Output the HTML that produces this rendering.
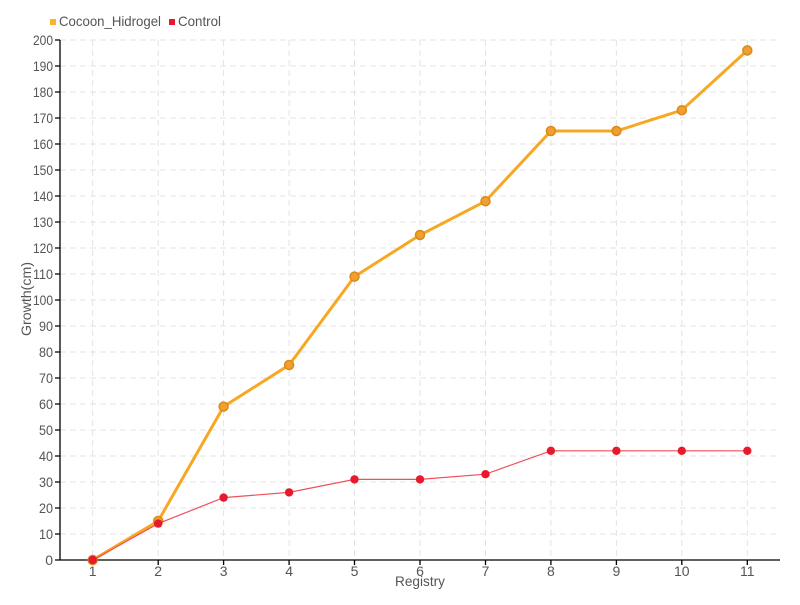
<!DOCTYPE html>
<html><head><style>body{margin:0;background:#fff}svg text{font-family:"Liberation Sans Narrow","Liberation Sans",sans-serif;fill:#555}</style></head><body>
<svg width="800" height="600" xmlns="http://www.w3.org/2000/svg">
<g stroke="#e3e3e3" stroke-dasharray="6,4" stroke-width="1">
<line x1="60" x2="780" y1="40" y2="40"/><line x1="60" x2="780" y1="66" y2="66"/><line x1="60" x2="780" y1="92" y2="92"/><line x1="60" x2="780" y1="118" y2="118"/><line x1="60" x2="780" y1="144" y2="144"/><line x1="60" x2="780" y1="170" y2="170"/><line x1="60" x2="780" y1="196" y2="196"/><line x1="60" x2="780" y1="222" y2="222"/><line x1="60" x2="780" y1="248" y2="248"/><line x1="60" x2="780" y1="274" y2="274"/><line x1="60" x2="780" y1="300" y2="300"/><line x1="60" x2="780" y1="326" y2="326"/><line x1="60" x2="780" y1="352" y2="352"/><line x1="60" x2="780" y1="378" y2="378"/><line x1="60" x2="780" y1="404" y2="404"/><line x1="60" x2="780" y1="430" y2="430"/><line x1="60" x2="780" y1="456" y2="456"/><line x1="60" x2="780" y1="482" y2="482"/><line x1="60" x2="780" y1="508" y2="508"/><line x1="60" x2="780" y1="534" y2="534"/>
<line y1="40" y2="560" x1="92.7" x2="92.7"/><line y1="40" y2="560" x1="158.2" x2="158.2"/><line y1="40" y2="560" x1="223.6" x2="223.6"/><line y1="40" y2="560" x1="289.1" x2="289.1"/><line y1="40" y2="560" x1="354.5" x2="354.5"/><line y1="40" y2="560" x1="420" x2="420"/><line y1="40" y2="560" x1="485.5" x2="485.5"/><line y1="40" y2="560" x1="550.9" x2="550.9"/><line y1="40" y2="560" x1="616.4" x2="616.4"/><line y1="40" y2="560" x1="681.8" x2="681.8"/><line y1="40" y2="560" x1="747.3" x2="747.3"/>
</g>
<g stroke="#000" stroke-width="1.3">
<line x1="60" y1="40" x2="60" y2="560"/><line x1="60" y1="560" x2="780" y2="560"/>
<path d="M55 40H60M55 66H60M55 92H60M55 118H60M55 144H60M55 170H60M55 196H60M55 222H60M55 248H60M55 274H60M55 300H60M55 326H60M55 352H60M55 378H60M55 404H60M55 430H60M55 456H60M55 482H60M55 508H60M55 534H60M55 560H60"/>
<path d="M92.7 560V565M158.2 560V565M223.6 560V565M289.1 560V565M354.5 560V565M420 560V565M485.5 560V565M550.9 560V565M616.4 560V565M681.8 560V565M747.3 560V565"/>
</g>
<g font-size="14" text-anchor="end" lengthAdjust="spacingAndGlyphs">
<text x="53" y="45" textLength="20" lengthAdjust="spacingAndGlyphs">200</text><text x="53" y="71" textLength="20" lengthAdjust="spacingAndGlyphs">190</text><text x="53" y="97" textLength="20" lengthAdjust="spacingAndGlyphs">180</text><text x="53" y="123" textLength="20" lengthAdjust="spacingAndGlyphs">170</text><text x="53" y="149" textLength="20" lengthAdjust="spacingAndGlyphs">160</text><text x="53" y="175" textLength="20" lengthAdjust="spacingAndGlyphs">150</text><text x="53" y="201" textLength="20" lengthAdjust="spacingAndGlyphs">140</text><text x="53" y="227" textLength="20" lengthAdjust="spacingAndGlyphs">130</text><text x="53" y="253" textLength="20" lengthAdjust="spacingAndGlyphs">120</text><text x="53" y="279" textLength="20" lengthAdjust="spacingAndGlyphs">110</text><text x="53" y="305" textLength="20" lengthAdjust="spacingAndGlyphs">100</text><text x="53" y="331" textLength="14" lengthAdjust="spacingAndGlyphs">90</text><text x="53" y="357" textLength="14" lengthAdjust="spacingAndGlyphs">80</text><text x="53" y="383" textLength="14" lengthAdjust="spacingAndGlyphs">70</text><text x="53" y="409" textLength="14" lengthAdjust="spacingAndGlyphs">60</text><text x="53" y="435" textLength="14" lengthAdjust="spacingAndGlyphs">50</text><text x="53" y="461" textLength="14" lengthAdjust="spacingAndGlyphs">40</text><text x="53" y="487" textLength="14" lengthAdjust="spacingAndGlyphs">30</text><text x="53" y="513" textLength="14" lengthAdjust="spacingAndGlyphs">20</text><text x="53" y="539" textLength="14" lengthAdjust="spacingAndGlyphs">10</text><text x="53" y="565">0</text>
</g>
<g font-size="14" text-anchor="middle">
<text x="92.7" y="576">1</text><text x="158.2" y="576">2</text><text x="223.6" y="576">3</text><text x="289.1" y="576">4</text><text x="354.5" y="576">5</text><text x="420" y="576">6</text><text x="485.5" y="576">7</text><text x="550.9" y="576">8</text><text x="616.4" y="576">9</text><text x="681.8" y="576">10</text><text x="747.3" y="576">11</text>
<text x="420" y="586" textLength="50" lengthAdjust="spacingAndGlyphs">Registry</text>
<text transform="translate(31,299) rotate(-90)" textLength="74" lengthAdjust="spacingAndGlyphs">Growth(cm)</text>
</g>
<polyline fill="none" stroke="#f7a823" stroke-width="3" points="92.7,560 158.2,521 223.6,406.6 289.1,365 354.5,276.6 420,235 485.5,201.2 550.9,131 616.4,131 681.8,110.2 747.3,50.4"/>
<g fill="#f0a030" stroke="#d98a1a" stroke-width="1.5">
<circle cx="92.7" cy="560" r="4.5"/><circle cx="158.2" cy="521" r="4.5"/><circle cx="223.6" cy="406.6" r="4.5"/><circle cx="289.1" cy="365" r="4.5"/><circle cx="354.5" cy="276.6" r="4.5"/><circle cx="420" cy="235" r="4.5"/><circle cx="485.5" cy="201.2" r="4.5"/><circle cx="550.9" cy="131" r="4.5"/><circle cx="616.4" cy="131" r="4.5"/><circle cx="681.8" cy="110.2" r="4.5"/><circle cx="747.3" cy="50.4" r="4.5"/>
</g>
<polyline fill="none" stroke="#f0505a" stroke-width="1.2" points="92.7,560 158.2,523.6 223.6,497.6 289.1,492.4 354.5,479.4 420,479.4 485.5,474.2 550.9,450.8 616.4,450.8 681.8,450.8 747.3,450.8"/>
<g fill="#e8192c">
<circle cx="92.7" cy="560" r="4.2"/><circle cx="158.2" cy="523.6" r="4.2"/><circle cx="223.6" cy="497.6" r="4.2"/><circle cx="289.1" cy="492.4" r="4.2"/><circle cx="354.5" cy="479.4" r="4.2"/><circle cx="420" cy="479.4" r="4.2"/><circle cx="485.5" cy="474.2" r="4.2"/><circle cx="550.9" cy="450.8" r="4.2"/><circle cx="616.4" cy="450.8" r="4.2"/><circle cx="681.8" cy="450.8" r="4.2"/><circle cx="747.3" cy="450.8" r="4.2"/>
</g>
<rect x="50" y="19" width="6" height="6" fill="#f7b52c"/>
<text x="59" y="26" font-size="14" textLength="102" lengthAdjust="spacingAndGlyphs">Cocoon_Hidrogel</text>
<rect x="169" y="19" width="6" height="6" fill="#e8192c"/>
<text x="178" y="26" font-size="14" textLength="43" lengthAdjust="spacingAndGlyphs">Control</text>
</svg>
</body></html>
